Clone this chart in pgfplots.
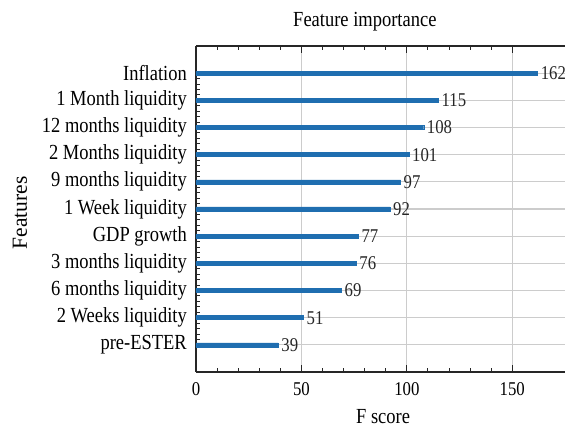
\documentclass[border=0pt]{standalone}
\usepackage{fontspec}
\setmainfont[FakeStretch=0.86]{Liberation Serif}
\newfontfamily\ylabfont{Liberation Serif}
\usepackage{pgfplots}
\pgfplotsset{compat=1.18}
\definecolor{barblue}{HTML}{1F6EB0}
\begin{document}
\fontsize{21.5}{25}\selectfont
\begin{tikzpicture}
\begin{axis}[name=ax,
  scale only axis, width=369pt, height=326pt,
  xbar, bar width=4pt,
  xmin=0, xmax=175, ymin=-1, ymax=11,
  axis y line*=left,
  xtick={0,50,100,150}, minor x tick num=4,
  ytick={0,...,10}, minor y tick num=4,
  yticklabels={pre-ESTER,2 Weeks liquidity,6 months liquidity,3 months liquidity,GDP growth,1 Week liquidity,9 months liquidity,2 Months liquidity,12 months liquidity,1 Month liquidity,Inflation},
  tick align=inside,
  major tick length=7pt, minor tick length=4pt,
  every tick/.style={black!85, line width=0.9pt},
  axis line style={black!85, line width=1.1pt},
  grid=major,
  major grid style={black!20, line width=1.1pt},
  /pgf/number format/assume math mode=true,
  xticklabel style={font=\fontsize{19.5}{22}\selectfont, inner sep=0pt, anchor=north, yshift=-10pt},
  yticklabel style={font=\fontsize{21.5}{25}\selectfont, inner sep=0pt, anchor=east, xshift=-9pt},
  title={Feature importance},
  title style={at={(0.263,1.040)}, anchor=base west, inner sep=0pt, font=\fontsize{21.5}{25}\selectfont},
  xlabel={F score},
  xlabel style={at={(0.507,-0.158)}, anchor=base, inner sep=0pt, font=\fontsize{21.5}{25}\selectfont},
  ylabel={Features},
  ylabel style={at={(-0.458,0.488)}, anchor=base, inner sep=0pt, font=\ylabfont\fontsize{21.5}{25}\selectfont},
  point meta=x,
  nodes near coords,
  nodes near coords align=horizontal,
  every node near coord/.append style={anchor=west, inner sep=0pt, xshift=3pt, black!85, font=\fontsize{19.5}{22}\selectfont},
]
\addplot[draw=barblue, fill=barblue] coordinates {
  (39,0) (51,1) (69,2) (76,3) (77,4) (92,5) (97,6) (101,7) (108,8) (115,9) (162,10)
};
\end{axis}
\pgfresetboundingbox
\path[use as bounding box] ([xshift=-196pt,yshift=-58pt]ax.south west) rectangle ([yshift=46pt]ax.north east);
\end{tikzpicture}
\end{document}
